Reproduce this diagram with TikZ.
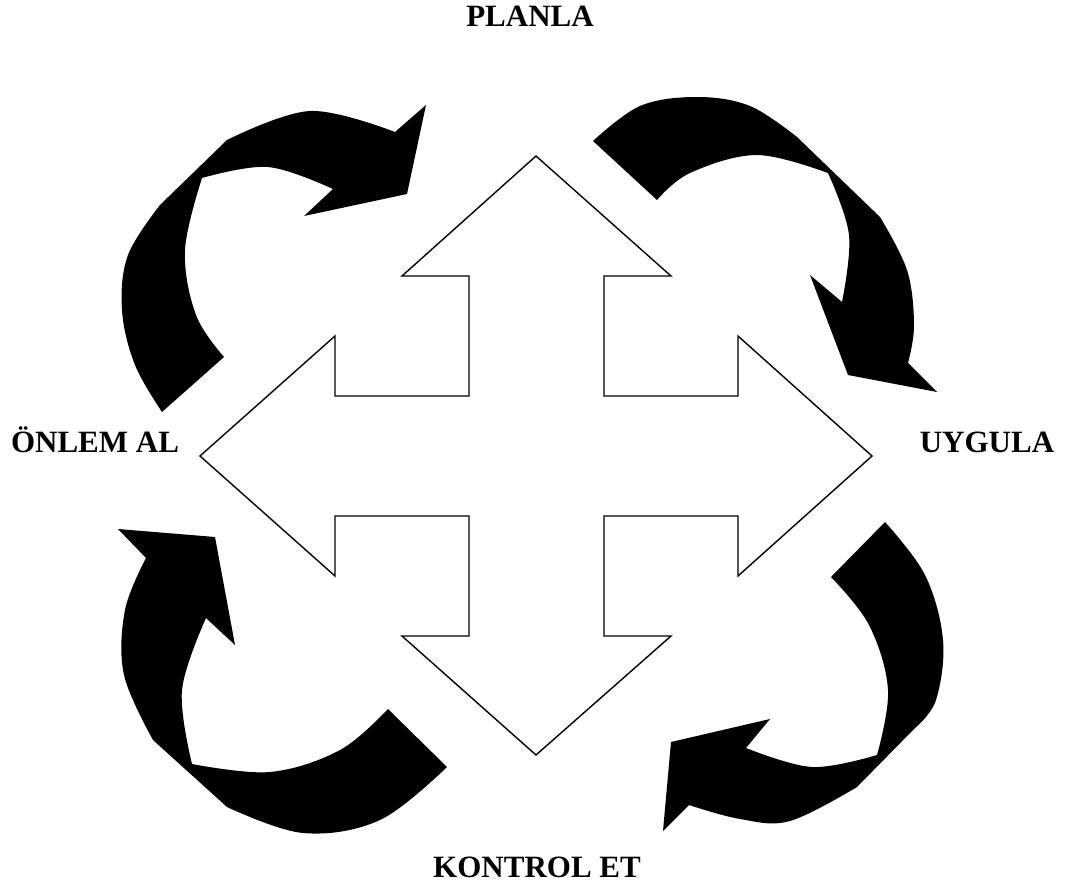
\documentclass[tikz,border=0pt]{standalone}
\usepackage{fontspec}
\setmainfont{Liberation Serif}
\begin{document}
\begin{tikzpicture}[x=1pt,y=-1pt,
  cross/.style={draw=black,line width=1.4pt,fill=white,line join=miter},
  curvedarrow/.style={fill=black},
  lbl/.style={font=\fontsize{31}{36}\selectfont\bfseries,anchor=base,inner sep=0pt}]
\useasboundingbox (0,0) rectangle (1066,891);
% central four-way arrow
\draw[cross] (536,156) -- (671,276) -- (604,276) -- (604,396) -- (738,396) -- (738,336)
  -- (872,456) -- (738,576) -- (738,516) -- (604,516) -- (604,636) -- (671,636)
  -- (536,755) -- (402,636) -- (469,636) -- (469,516) -- (335,516) -- (335,576)
  -- (200,456) -- (335,336) -- (335,396) -- (469,396) -- (469,276) -- (402,276) -- cycle;
% top-left curved arrow
\fill[curvedarrow] (162,412) -- plot[smooth,tension=0.6] coordinates {(162,412) (135,365) (122,310) (128,255) (160,205)}
  -- (227,140) -- plot[smooth,tension=0.6] coordinates {(227,140) (310,111) (395,132)}
  -- (426,105) -- (407,194) -- (304,216) -- (333,189)
  -- plot[smooth,tension=0.6] coordinates {(333,189) (268,167) (202,178)}
  -- plot[smooth,tension=0.6] coordinates {(202,178) (185,250) (196,315) (224,357)} -- cycle;
% top-right curved arrow
\fill[curvedarrow] (593,141) -- plot[smooth,tension=0.6] coordinates {(593,141) (640,106) (697,97) (750,106) (797,137)}
  -- (880,217) -- plot[smooth,tension=0.6] coordinates {(880,217) (907,270) (914,325) (908,363)}
  -- (937,392) -- (848,375) -- (810,275) -- (842,302)
  -- plot[smooth,tension=0.6] coordinates {(842,302) (849,235) (828,173)}
  -- plot[smooth,tension=0.6] coordinates {(828,173) (757,155) (690,173) (657,200)} -- cycle;
% bottom-right curved arrow
\fill[curvedarrow] (885,522) -- plot[smooth,tension=0.6] coordinates {(885,522) (925,575) (943,640) (936,700) (915,728)}
  -- (857,787) -- plot[smooth,tension=0.6] coordinates {(857,787) (790,821) (740,819) (689,805)}
  -- (663,831) -- (671,742) -- (770,719) -- (746,748)
  -- plot[smooth,tension=0.6] coordinates {(746,748) (812,767) (877,755)}
  -- plot[smooth,tension=0.6] coordinates {(877,755) (888,690) (869,625) (831,577)} -- cycle;
% bottom-left curved arrow
\fill[curvedarrow] (447,767) -- plot[smooth,tension=0.6] coordinates {(447,767) (380,820) (303,833) (227,807)}
  -- (153,740) -- plot[smooth,tension=0.6] coordinates {(153,740) (124,675) (125,610) (146,558)}
  -- (118,529) -- (215,537) -- (235,645) -- (206,618)
  -- plot[smooth,tension=0.6] coordinates {(206,618) (182,690) (192,764)}
  -- plot[smooth,tension=0.6] coordinates {(192,764) (270,772) (340,750) (388,709)} -- cycle;
% labels
\node[lbl] (plan) at (530,27) {PLANLA};
\node[lbl] (onlem) at (95,452) {ÖNLEM AL};
\node[lbl] (uygula) at (987,452) {UYGULA};
\node[lbl] (kontrol) at (537,877) {KONTROL ET};
\end{tikzpicture}
\end{document}
